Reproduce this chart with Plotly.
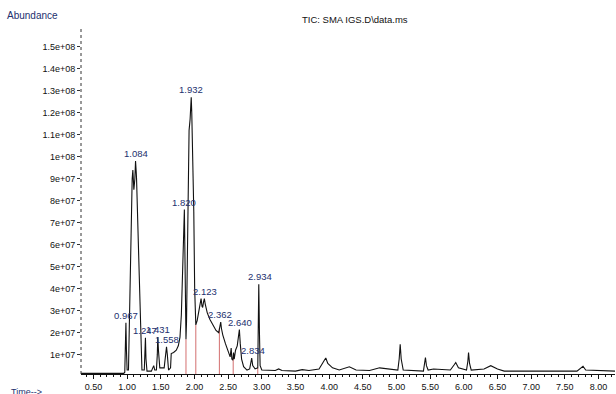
import plotly.graph_objects as go

# Chromatogram trace (time in minutes, abundance)
time_min = [0.315, 0.95, 0.965, 0.975, 0.982, 0.99, 1.00, 1.02, 1.03, 1.04, 1.045, 1.052, 1.062, 1.075,
            1.085, 1.10, 1.115, 1.125, 1.135, 1.14, 1.18, 1.22, 1.255, 1.265, 1.272, 1.28, 1.295,
            1.36, 1.395, 1.41, 1.435, 1.448, 1.455, 1.465, 1.485, 1.55, 1.572, 1.585, 1.597, 1.615,
            1.645, 1.655, 1.69, 1.73, 1.76, 1.785, 1.805, 1.825, 1.84, 1.85, 1.858, 1.866, 1.874,
            1.882, 1.893, 1.905, 1.92, 1.935, 1.945, 1.952, 1.96, 1.975, 1.99, 2.003, 2.02,
            2.04, 2.06, 2.08, 2.098, 2.112, 2.122, 2.135, 2.147, 2.16, 2.19, 2.23, 2.27, 2.32, 2.36,
            2.38, 2.39, 2.40, 2.42, 2.46, 2.50, 2.53, 2.545, 2.555, 2.57, 2.58, 2.59, 2.61, 2.635,
            2.655, 2.667, 2.68, 2.70, 2.73, 2.78, 2.82, 2.84, 2.85, 2.865, 2.90, 2.94, 2.95, 2.955,
            2.965, 2.975, 3.00, 3.20, 3.25, 3.30, 3.50, 3.60, 3.70, 3.85, 3.92, 3.95, 3.98, 4.05,
            4.15, 4.30, 4.40, 4.60, 4.75, 4.90, 5.02, 5.04, 5.055, 5.07, 5.10, 5.40, 5.415, 5.43,
            5.445, 5.47, 5.55, 5.80, 5.86, 5.88, 5.92, 6.04, 6.06, 6.07, 6.085, 6.11, 6.30, 6.40,
            6.50, 6.60, 7.68, 7.74, 7.77, 7.81, 8.245]
abundance = [1.5e6, 1.5e6, 2.0e6, 1.5e7, 2.45e7, 1.2e7, 3.0e6, 3.0e6, 2.0e7, 4.5e7, 5.0e7, 5.5e7, 7.5e7, 9.0e7,
             9.4e7, 8.5e7, 9.0e7, 9.8e7, 9.3e7, 9.0e7, 4.6e7, 3.0e6, 3.0e6, 1.0e7, 1.77e7, 8.0e6, 2.5e6,
             2.5e6, 5.0e6, 3.0e6, 3.0e6, 1.0e7, 1.8e7, 1.2e7, 4.0e6, 4.0e6, 1.0e7, 1.36e7, 1.0e7, 3.0e6,
             4.0e6, 1.05e7, 1.1e7, 1.2e7, 1.4e7, 1.8e7, 2.8e7, 4.5e7, 6.5e7, 7.6e7, 5.0e7, 2.5e7, 1.7e7,
             2.5e7, 5.0e7, 8.0e7, 1.12e8, 1.17e8, 1.23e8, 1.27e8, 1.2e8, 1.0e8, 7.5e7, 4.0e7, 2.35e7,
             2.55e7, 2.9e7, 3.3e7, 3.55e7, 3.2e7, 3.15e7, 3.4e7, 3.55e7, 3.3e7, 2.9e7, 2.6e7, 2.35e7, 2.1e7, 2.0e7,
             2.3e7, 2.48e7, 2.2e7, 1.9e7, 1.5e7, 1.2e7, 9.0e6, 1.3e7, 8.0e6, 7.5e6, 1.1e7, 8.0e6, 1.2e7, 1.4e7,
             1.9e7, 2.14e7, 1.5e7, 8.0e6, 4.5e6, 3.0e6, 3.5e6, 6.0e6, 8.4e6, 5.0e6, 3.5e6, 4.0e6, 2.5e7, 4.2e7,
             2.0e7, 5.0e6, 3.0e6, 2.8e6, 3.5e6, 2.8e6, 2.5e6, 3.2e6, 2.8e6, 3.5e6, 7.0e6, 8.5e6, 6.0e6, 4.0e6,
             3.0e6, 4.5e6, 3.0e6, 2.8e6, 4.0e6, 3.5e6, 3.0e6, 8.0e6, 1.47e7, 8.0e6, 3.0e6, 2.5e6, 5.0e6, 8.7e6,
             5.0e6, 3.0e6, 3.5e6, 3.0e6, 5.5e6, 6.4e6, 4.0e6, 3.0e6, 7.0e6, 1.1e7, 6.0e6, 3.0e6, 3.5e6, 5.0e6,
             3.5e6, 2.5e6, 2.5e6, 4.0e6, 4.7e6, 3.0e6, 2.5e6]

# Labelled peaks (label text, label position, apex height)
peak_labels = ["0.967", "1.084", "1.247", "1.431", "1.558", "1.820", "1.932", "2.123", "2.362", "2.640", "2.834", "2.934"]
peak_label_times = [0.982, 1.125, 1.272, 1.455, 1.585, 1.85, 1.952, 2.15, 2.38, 2.68, 2.87, 2.975]
peak_heights = [2.45e7, 9.8e7, 1.77e7, 1.8e7, 1.36e7, 7.6e7, 1.27e8, 3.55e7, 2.48e7, 2.14e7, 8.4e6, 4.2e7]

# Integration drop lines (red)
drop_times = [1.874, 2.02, 2.37, 2.575, 2.94]
drop_heights = [1.7e7, 2.35e7, 2.2e7, 9.0e6, 4.0e6]

y_tick_vals = [1e7, 2e7, 3e7, 4e7, 5e7, 6e7, 7e7, 8e7, 9e7, 1e8, 1.1e8, 1.2e8, 1.3e8, 1.4e8, 1.5e8]
y_tick_text = ["1e+07", "2e+07", "3e+07", "4e+07", "5e+07", "6e+07", "7e+07", "8e+07", "9e+07",
               "1e+08", "1.1e+08", "1.2e+08", "1.3e+08", "1.4e+08", "1.5e+08"]
x_tick_vals = [0.5, 1.0, 1.5, 2.0, 2.5, 3.0, 3.5, 4.0, 4.5, 5.0, 5.5, 6.0, 6.5, 7.0, 7.5, 8.0]
x_tick_text = ["0.50", "1.00", "1.50", "2.00", "2.50", "3.00", "3.50", "4.00", "4.50", "5.00",
               "5.50", "6.00", "6.50", "7.00", "7.50", "8.00"]

font_family = "Liberation Sans, Arial, sans-serif"
navy = "#22306e"

fig = go.Figure()

for t, h in zip(drop_times, drop_heights):
    fig.add_trace(go.Scatter(x=[t, t], y=[1.2e6, h], mode="lines",
                             line=dict(color="#c84a4a", width=0.8), hoverinfo="skip", showlegend=False))

fig.add_trace(go.Scatter(x=time_min, y=abundance, mode="lines",
                         line=dict(color="#111111", width=1.1), showlegend=False))

for lab, t, h in zip(peak_labels, peak_label_times, peak_heights):
    fig.add_annotation(x=t, y=h, text=lab, showarrow=False, yanchor="bottom", yshift=0,
                       font=dict(family=font_family, size=9.5, color=navy))

fig.add_annotation(xref="paper", yref="paper", x=-0.142, y=1.0, yshift=12, xanchor="left", yanchor="middle",
                   text="Abundance", showarrow=False, font=dict(family=font_family, size=10, color=navy))
fig.add_annotation(xref="paper", yref="paper", x=0.411, y=1.0, yshift=8, xanchor="left", yanchor="middle",
                   text="TIC: SMA IGS.D\\data.ms", showarrow=False, font=dict(family=font_family, size=9.5, color="#111111"))
fig.add_annotation(xref="paper", yref="paper", x=-0.134, y=0, yshift=-18, xanchor="left", yanchor="middle",
                   text="Time-->", showarrow=False, font=dict(family=font_family, size=9, color=navy))

# dotted vertical axis line
fig.add_shape(type="line", xref="paper", yref="paper", x0=0, x1=0, y0=0, y1=1,
              line=dict(color="#333333", width=1, dash="dot"))

fig.update_layout(
    width=616, height=394,
    margin=dict(l=81, r=1, t=27, b=20),
    paper_bgcolor="white", plot_bgcolor="white",
    font=dict(family=font_family, size=9, color="#111111"),
    xaxis=dict(range=[0.315, 8.245], tickvals=x_tick_vals, ticktext=x_tick_text,
               showgrid=False, zeroline=False, showline=True, linecolor="#111111", linewidth=1,
               ticks="outside", ticklen=4, tickcolor="#111111",
               minor=dict(dtick=0.1, ticks="outside", ticklen=2, tickcolor="#111111"),
               tickfont=dict(size=9, color="#111111")),
    yaxis=dict(range=[1.2e6, 1.59e8], tickvals=y_tick_vals, ticktext=y_tick_text,
               showgrid=False, zeroline=False, showline=False,
               ticks="outside", ticklen=3, tickcolor="#333333",
               tickfont=dict(size=9, color="#111111")),
)

fig.write_html("out.html", config={"displayModeBar": False},
               post_script="document.body.style.margin='0';")
